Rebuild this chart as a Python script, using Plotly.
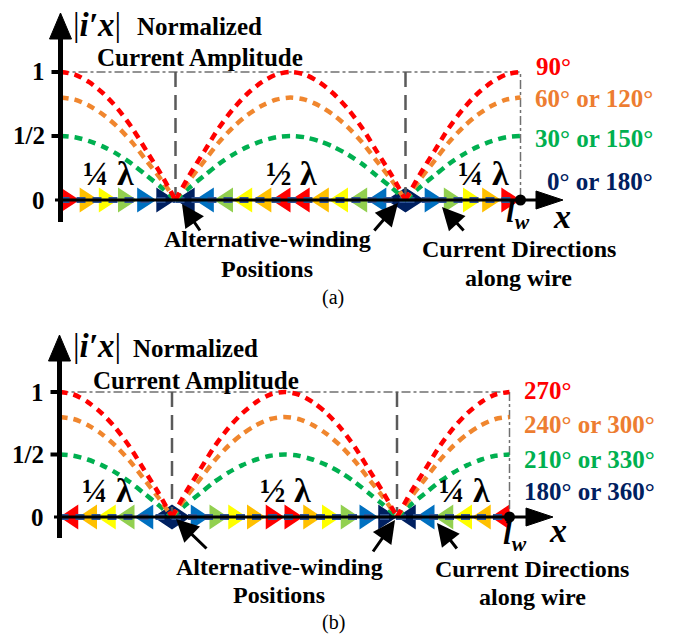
import plotly.graph_objects as go

W, H = 685, 639
FONT = "Liberation Serif"

# ---------------- data ----------------
# normalized |i'x| shape over one quarter wavelength (read from the red 90° curve)
x_quarter = [0, 1/32, 2/32, 3/32, 4/32, 5/32, 6/32, 7/32, 8/32]          # in units of λ
shape_quarter = [1.0, 0.98, 0.92, 0.83, 0.71, 0.56, 0.38, 0.20, 0.0]
amplitudes = [1.0, 0.8, 0.5, 0.0]
labels_a = ["90°", "60° or 120°", "30° or 150°", "0° or 180°"]
labels_b = ["270°", "240° or 300°", "210° or 330°", "180° or 360°"]
curve_colors = ["#FF0000", "#F0862E", "#00B050", "#2F5597"]
label_colors = ["#FF0000", "#ED7D31", "#00B050", "#002060"]
segment_bounds = [0, 0.25, 0.75, 1.0]          # alternative-winding positions, wire end l_w = λ
segment_colors = [
    ["#FF0000", "#FFC000", "#FFFF00", "#92D050", "#0070C0", "#002060"],
    ["#002060", "#0070C0", "#92D050", "#FFFF00", "#FFC000", "#FF0000",
     "#FF0000", "#FFC000", "#FFFF00", "#92D050", "#0070C0", "#002060"],
    ["#002060", "#0070C0", "#92D050", "#FFFF00", "#FFC000", "#FF0000"],
]
directions_a = [1, -1, 1]
directions_b = [-1, 1, -1]
y_tick_vals = [1, 0.5, 0]
y_tick_text = ["1", "1/2", "0"]

# ---------------- panel geometry (pixels) ----------------
panels = [
    dict(ox=60.5, oy=200, sx=460, sy=128, top=0, bot=319.5, dirs=directions_a, labels=labels_a,
         label_x=[534, 533, 533, 545], label_y=[66, 98, 138, 181], tag="(a)", tag_y=297,
         ivx=(97, 25), norm=(199, 26), amp=(200, 58), lam_y=173, lam_x=[108, 291, 483],
         lw=(518, 214), xx=(562, 216), aw=(267, 239), pos=(267, 269), cd=(519, 249), aw2=(518, 278),
         arrows=[((182, 204), (201, 232)), ((398, 203), (373, 232)), ((442, 207), (465, 232))],
         yaxis_bottom=222, yaxis_tip=13, xaxis_left=55, xaxis_tip=563),
    dict(ox=59.5, oy=517, sx=450, sy=125, top=319.5, bot=639, dirs=directions_b, labels=labels_b,
         label_x=[522, 522, 522, 522], label_y=[391, 424, 460, 491], tag="(b)", tag_y=622,
         ivx=(97, 346), norm=(196, 348), amp=(196, 380), lam_y=490, lam_x=[107, 285, 465],
         lw=(515, 536), xx=(558, 530), aw=(279, 567), pos=(279, 595), cd=(532, 569), aw2=(532, 597),
         arrows=[((176, 519), (208, 550)), ((395, 520), (372, 553)), ((437, 523), (458, 550))],
         yaxis_bottom=538, yaxis_tip=335, xaxis_left=54, xaxis_tip=553),
]


def px(x):
    return x / W


def py(y):
    return 1 - y / H


# lobes of the standing-wave amplitude
lobe_x = [
    list(x_quarter),
    [segment_bounds[1] + v for v in x_quarter] + [0.5 + v for v in x_quarter[1:]],
    [segment_bounds[2] + v for v in x_quarter],
]
lobe_y = [
    list(shape_quarter),
    shape_quarter[::-1] + shape_quarter[1:],
    shape_quarter[::-1],
]

fig = go.Figure()
shapes = []
annotations = []

for pi, p in enumerate(panels):
    xa = "x" if pi == 0 else "x2"
    ya = "y" if pi == 0 else "y2"
    # triangles showing current direction
    h = 12.5 / p["sy"]
    by_color = {}
    for s in range(3):
        cols = segment_colors[s]
        n = len(cols)
        w = (segment_bounds[s + 1] - segment_bounds[s]) / n
        d = p["dirs"][s]
        for k, c in enumerate(cols):
            x0 = segment_bounds[s] + k * w
            x1 = x0 + w
            if d > 0:
                xs, ys = [x0, x1, x0, x0], [-h, 0, h, -h]
            else:
                xs, ys = [x1, x0, x1, x1], [-h, 0, h, -h]
            bx, byy = by_color.setdefault(c, ([], []))
            bx.extend(xs + [None])
            byy.extend(ys + [None])
    for c, (bx, byy) in by_color.items():
        fig.add_trace(go.Scatter(x=bx, y=byy, xaxis=xa, yaxis=ya, mode="lines", fill="toself",
                                 fillcolor=c, line=dict(width=0, color=c), hoverinfo="skip",
                                 showlegend=False))
    # reference lines
    fig.add_trace(go.Scatter(x=[0, segment_bounds[3], segment_bounds[3]], y=[1, 1, 0], xaxis=xa, yaxis=ya,
                             mode="lines", line=dict(color="#707070", width=1.5, dash="dashdot"),
                             hoverinfo="skip", showlegend=False))
    for xn in segment_bounds[1:3]:
        fig.add_trace(go.Scatter(x=[xn, xn], y=[1, 0.04], xaxis=xa, yaxis=ya, mode="lines",
                                 line=dict(color="#5A5A5A", width=2.5, dash="15px,8px"),
                                 hoverinfo="skip", showlegend=False))
    # amplitude curves (draw smaller first, red on top)
    for ci in [3, 2, 1, 0]:
        a = amplitudes[ci]
        for lx, ly in zip(lobe_x, lobe_y):
            fig.add_trace(go.Scatter(
                x=lx, y=[a * v for v in ly], xaxis=xa, yaxis=ya, mode="lines",
                line=dict(color=curve_colors[ci], width=(6 if ci == 3 else 4.5),
                          dash=("9px,7px" if ci == 3 else "8px,6px"),
                          shape=("linear" if ci == 3 else "spline"), smoothing=0.8),
                hoverinfo="skip", showlegend=False))
    # wire end dot
    fig.add_trace(go.Scatter(x=[segment_bounds[3]], y=[0], xaxis=xa, yaxis=ya, mode="markers",
                             marker=dict(color="black", size=11), hoverinfo="skip", showlegend=False))

    # axes ranges
    xr = [(0 - p["ox"]) / p["sx"], (W - p["ox"]) / p["sx"]]
    yr = [(p["oy"] - p["bot"]) / p["sy"], (p["oy"] - p["top"]) / p["sy"]]
    common = dict(visible=False, fixedrange=True)
    if pi == 0:
        fig.update_layout(xaxis=dict(range=xr, domain=[0, 1], anchor="y", **common),
                          yaxis=dict(range=yr, domain=[1 - p["bot"] / H, 1 - p["top"] / H], anchor="x", **common))
    else:
        fig.update_layout(xaxis2=dict(range=xr, domain=[0, 1], anchor="y2", **common),
                          yaxis2=dict(range=yr, domain=[1 - p["bot"] / H, 1 - p["top"] / H], anchor="x2", **common))

    ox, oy, sy = p["ox"], p["oy"], p["sy"]
    # y axis line + arrowhead
    shapes.append(dict(type="line", xref="paper", yref="paper", x0=px(ox), x1=px(ox),
                       y0=py(p["yaxis_bottom"]), y1=py(p["yaxis_tip"] + 20), line=dict(color="black", width=5)))
    t = p["yaxis_tip"]
    shapes.append(dict(type="path", xref="paper", yref="paper",
                       path=f"M{px(ox-11)},{py(t+26)} L{px(ox)},{py(t)} L{px(ox+11)},{py(t+26)} Z",
                       fillcolor="black", line=dict(color="black", width=1)))
    # x axis line + arrowhead
    xt = p["xaxis_tip"]
    shapes.append(dict(type="line", xref="paper", yref="paper", x0=px(p["xaxis_left"]), x1=px(xt - 20),
                       y0=py(oy), y1=py(oy), line=dict(color="black", width=3)))
    shapes.append(dict(type="path", xref="paper", yref="paper",
                       path=f"M{px(xt-27)},{py(oy-9)} L{px(xt)},{py(oy)} L{px(xt-27)},{py(oy+9)} Z",
                       fillcolor="black", line=dict(color="black", width=1)))
    # ticks and tick labels
    for v, tt in zip(y_tick_vals, y_tick_text):
        ypx = oy - v * sy
        if v > 0:
            shapes.append(dict(type="line", xref="paper", yref="paper", x0=px(ox - 9), x1=px(ox),
                               y0=py(ypx), y1=py(ypx), line=dict(color="black", width=4)))
        annotations.append(dict(text=f"<b>{tt}</b>", x=px(ox - 14), y=py(ypx), xref="paper", yref="paper",
                                xanchor="right", yanchor="middle", showarrow=False,
                                font=dict(family=FONT, size=25, color="black")))

    def txt(s, pos, size=21, color="black", xanchor="center"):
        annotations.append(dict(text=s, x=px(pos[0]), y=py(pos[1]), xref="paper", yref="paper",
                                xanchor=xanchor, yanchor="middle", showarrow=False,
                                font=dict(family=FONT, size=size, color=color)))

    txt("|<b><i>i′x</i></b>|", p["ivx"], size=33)
    txt("<b>Normalized</b>", p["norm"], size=25)
    txt("<b>Current Amplitude</b>", p["amp"], size=25)
    for lx, lt in zip(p["lam_x"], ["¼ λ", "½ λ", "¼ λ"]):
        txt(f"<b>{lt}</b>", (lx, p["lam_y"]), size=34)
    for i in range(4):
        txt(f"<b>{p['labels'][i]}</b>", (p["label_x"][i], p["label_y"][i]), size=25,
            color=label_colors[i], xanchor="left")
    txt("<b><i>l</i></b><sub><b><i>w</i></b></sub>", p["lw"], size=31)
    txt("<b><i>x</i></b>", p["xx"], size=34)
    txt("<b>Alternative-winding</b>", p["aw"], size=24)
    txt("<b>Positions</b>", p["pos"], size=24)
    txt("<b>Current Directions</b>", p["cd"], size=24)
    txt("<b>along wire</b>", p["aw2"], size=24)
    txt(p["tag"], (333, p["tag_y"]), size=20)
    for (tip, tail) in p["arrows"]:
        annotations.append(dict(text="", x=px(tip[0]), y=py(tip[1]), xref="paper", yref="paper",
                                ax=tail[0] - tip[0], ay=tail[1] - tip[1], showarrow=True,
                                arrowhead=2, arrowsize=1.5, arrowwidth=3, arrowcolor="black"))

fig.update_layout(width=W, height=H, margin=dict(l=0, r=0, t=0, b=0),
                  paper_bgcolor="white", plot_bgcolor="white",
                  shapes=shapes, annotations=annotations, showlegend=False)
fig.write_html("out.html")
